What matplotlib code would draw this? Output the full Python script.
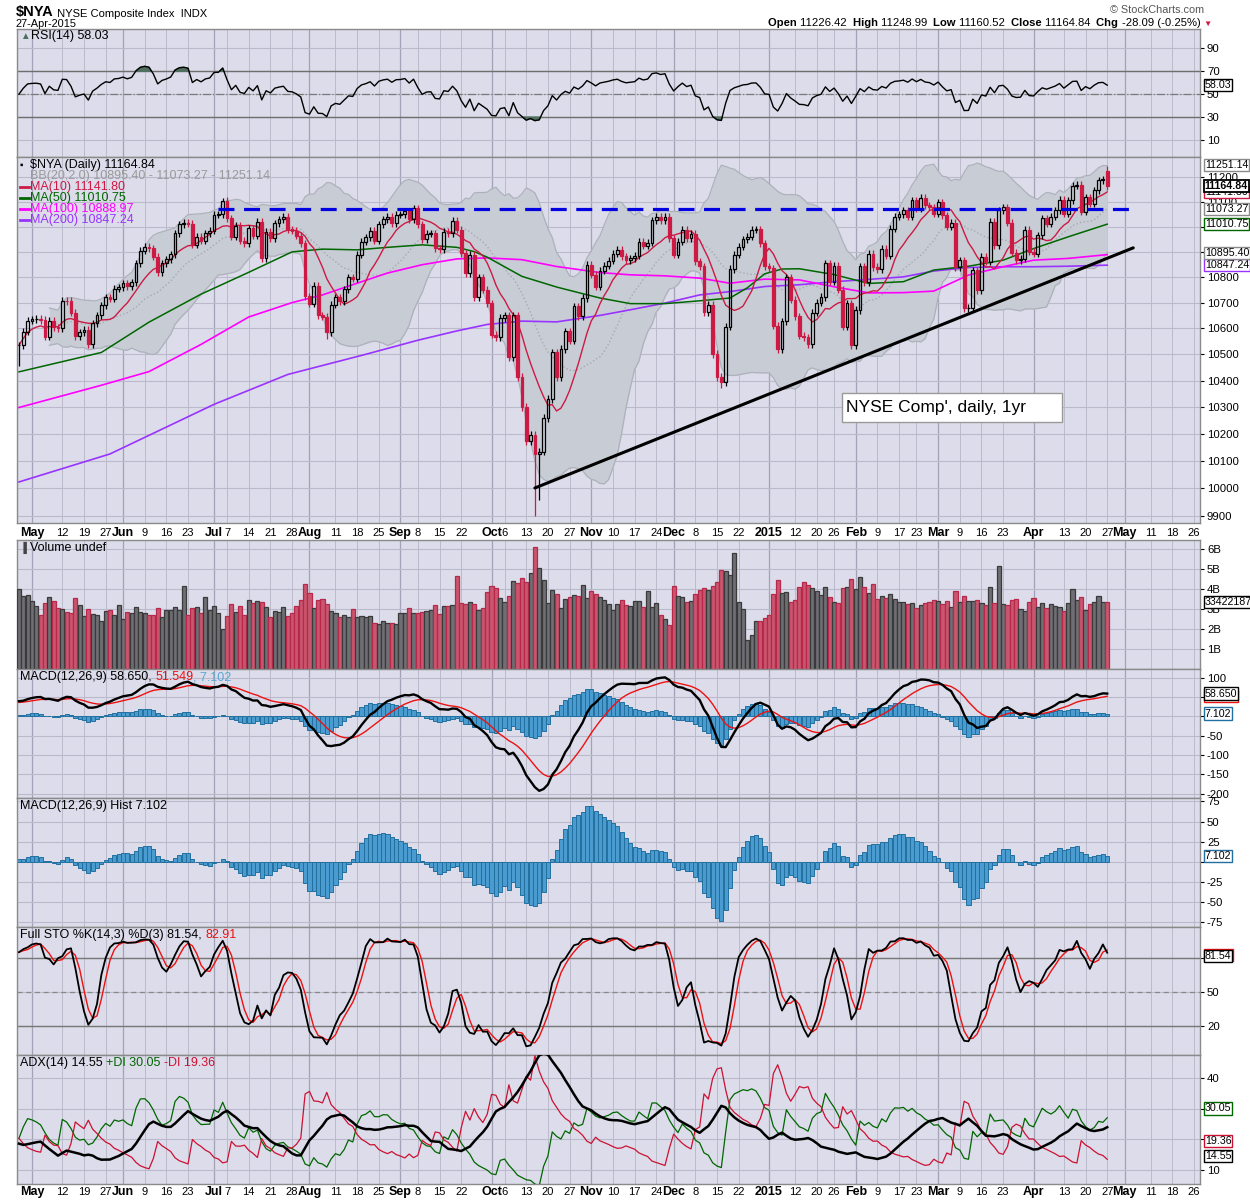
import numpy as np
import pandas as pd
import matplotlib
matplotlib.use('Agg')
import matplotlib.pyplot as plt
from matplotlib.transforms import blended_transform_factory
from matplotlib.ticker import NullLocator
from matplotlib.patches import Rectangle

plt.rcParams['font.family'] = ['Liberation Sans', 'DejaVu Sans']

# ---------------- values ----------------
# daily closes, 28-Apr-2014 .. 27-Apr-2015
closes = [
    10535, 10587, 10630, 10635, 10637, 10632, 10568, 10630, 10604, 10600,
    10708, 10706, 10660, 10570, 10585, 10595, 10540, 10620, 10650, 10690,
    10720, 10715, 10755, 10760, 10775, 10765, 10780, 10855, 10905, 10920,
    10915, 10880, 10820, 10855, 10870, 10890, 10975, 11010, 11017, 11012,
    10928, 10960, 10945, 10975, 10985, 11048, 11050, 11105, 11035, 10960,
    11005, 10945, 10935, 10995, 10965, 11020, 10875, 10980, 10955, 11015,
    11030, 11040, 10990, 10985, 10965, 10935, 10724, 10695, 10765, 10650,
    10645, 10584, 10692, 10720, 10706, 10752, 10800, 10793, 10889, 10940,
    10958, 10985, 10945, 11010, 11030, 11040, 11015, 11048, 11050, 11062,
    11030, 11074, 11010, 10950, 10972, 10975, 10915, 10910, 10981, 10975,
    11025, 10988, 10895, 10815, 10889, 10720, 10800, 10750, 10698, 10575,
    10565, 10640, 10650, 10489, 10651, 10414, 10300, 10173, 10195, 10124,
    10134, 10258, 10330, 10508, 10414, 10520, 10588, 10552, 10685, 10646,
    10718, 10848, 10810, 10762, 10826, 10845, 10865, 10893, 10908, 10882,
    10866, 10875, 10884, 10941, 10924, 10937, 11027, 11040, 11027, 11040,
    10955, 10888, 10941, 10988, 10955, 10972, 10862, 10842, 10662, 10692,
    10501, 10414, 10395, 10607, 10832, 10889, 10920, 10951, 10960, 10988,
    10990, 10934, 10842, 10835, 10610, 10520, 10627, 10800, 10711, 10646,
    10571, 10565, 10540, 10660, 10700, 10722, 10855, 10782, 10845, 10750,
    10607, 10697, 10536, 10671, 10843, 10781, 10893, 10840, 10832, 10913,
    10885, 10993, 11040, 11050, 11067, 11040, 11107, 11073, 11118, 11087,
    11080, 11053, 11100, 11047, 11000, 11016, 10840, 10867, 10678, 10680,
    10827, 10748, 10880, 10860, 11020, 10927, 11067, 11080, 11016, 10896,
    10867, 10873, 10989, 10900, 10893, 10967, 11034, 11013, 11040, 11067,
    11110, 11053, 11107, 11166, 11170, 11060, 11120, 11094, 11148, 11188,
    11193, 11164.84,
]

# daily volume, billions of shares
volumes = [
    4.00, 3.63, 3.68, 3.38, 3.13, 2.68, 3.28, 3.58, 3.38, 3.03,
    2.98, 2.85, 2.78, 3.53, 3.18, 2.63, 2.98, 2.77, 2.72, 2.38,
    2.88, 2.93, 2.68, 3.18, 2.48, 2.83, 2.78, 3.08, 2.83, 2.78,
    2.68, 2.68, 3.03, 2.58, 2.93, 2.93, 3.08, 2.93, 4.13, 2.68,
    3.03, 3.08, 2.78, 3.58, 2.93, 3.13, 2.78, 1.98, 2.63, 3.23,
    2.83, 3.13, 2.68, 3.43, 3.28, 3.38, 3.33, 3.08, 2.58, 2.88,
    2.83, 3.08, 2.63, 2.78, 3.13, 3.43, 4.23, 3.78, 3.03, 3.43,
    3.48, 3.23, 2.88, 2.78, 2.58, 2.68, 2.58, 2.98, 2.58, 2.63,
    2.58, 2.63, 2.28, 2.23, 2.38, 2.28, 2.28, 2.23, 2.78, 2.78,
    3.03, 2.78, 2.78, 2.83, 2.88, 2.93, 3.18, 2.73, 3.13, 3.13,
    3.18, 4.63, 3.28, 3.23, 3.33, 3.23, 2.93, 3.03, 3.83, 4.13,
    4.03, 3.53, 3.33, 3.63, 4.38, 4.28, 4.53, 4.33, 4.78, 6.08,
    5.03, 4.43, 3.28, 3.93, 3.73, 3.03, 3.48, 3.58, 3.68, 3.63,
    4.18, 3.53, 3.88, 3.73, 3.58, 3.43, 3.23, 2.93, 3.23, 3.43,
    3.18, 3.13, 3.38, 3.38, 3.08, 3.88, 3.08, 3.28, 2.68, 2.48,
    2.20, 4.13, 3.63, 3.58, 3.33, 3.38, 3.73, 3.93, 4.03, 3.93,
    4.13, 4.33, 4.93, 4.88, 4.68, 5.80, 3.33, 2.98, 1.43, 1.68,
    2.38, 2.38, 2.53, 2.68, 3.73, 4.43, 3.78, 3.83, 3.33, 3.43,
    4.08, 4.33, 4.18, 4.03, 3.88, 3.68, 4.08, 3.58, 3.33, 3.28,
    4.03, 4.08, 4.48, 3.98, 4.58, 4.08, 3.78, 4.23, 3.48, 3.63,
    3.53, 3.73, 3.48, 3.33, 3.33, 3.23, 3.28, 3.03, 3.18, 3.28,
    3.33, 3.43, 3.38, 3.23, 3.38, 3.08, 3.88, 3.33, 3.63, 3.38,
    3.38, 3.43, 3.28, 3.18, 4.08, 3.28, 5.13, 3.23, 3.18, 3.43,
    3.48, 2.98, 2.88, 3.33, 3.53, 3.08, 3.28, 3.03, 3.23, 3.13,
    3.08, 2.88, 3.28, 3.98, 3.43, 3.58, 2.93, 3.23, 3.33, 3.63,
    3.33, 3.342,
]

# intraday extremes that stand out on the chart
big_lows = {0: 10455, 119: 9897, 120: 9955, 71: 10560, 162: 10370}
big_highs = {47: 11115, 251: 11248.99}
last_open = 11226.42

# indicator levels at the left edge of the chart (history before it is not shown)
macd_start, signal_start = 42, 35
adx_start = 20

# slow moving averages (trading-day index, value)
ma50_idx = [0, 19, 30, 42, 53, 63, 70, 78, 85, 93, 101, 105, 108, 116, 124, 130, 134,
            141, 149, 157, 164, 168, 172, 176, 180, 188, 196, 204, 211, 219, 227, 234, 242, 251]
ma50_val = [10433, 10507, 10624, 10733, 10819, 10900, 10911, 10908, 10918, 10928, 10918,
            10901, 10879, 10803, 10761, 10735, 10718, 10696, 10696, 10707, 10718, 10758,
            10813, 10832, 10833, 10810, 10775, 10782, 10828, 10843, 10867, 10913, 10960, 11010.75]
ma100_idx = [0, 19, 30, 42, 53, 63, 70, 78, 85, 93, 101, 108, 116, 124, 134, 141, 149, 157,
             164, 172, 180, 188, 196, 204, 211, 219, 227, 234, 242, 251]
ma100_val = [10298, 10382, 10434, 10538, 10644, 10700, 10730, 10776, 10816, 10849, 10872,
             10876, 10869, 10842, 10818, 10809, 10805, 10796, 10776, 10792, 10789, 10762,
             10738, 10739, 10745, 10808, 10841, 10867, 10874, 10888.97]
ma200_idx = [0, 21, 45, 62, 80, 92, 101, 108, 116, 124, 134, 141, 149, 157, 164, 172, 180,
             188, 196, 204, 211, 219, 227, 234, 242, 251]
ma200_val = [10022, 10125, 10310, 10423, 10500, 10554, 10590, 10615, 10628, 10625, 10650,
             10672, 10698, 10730, 10743, 10763, 10770, 10782, 10791, 10801, 10824, 10838,
             10841, 10841, 10843, 10847.24]

# drawn-on lines
resist_dates = ['2014-07-02', '2015-05-05']
resist_level = [11070, 11070]
trend_dates = ['2014-10-15', '2015-05-05']
trend_level = [10000, 10916]

holidays = ['2014-05-26', '2014-07-04', '2014-09-01', '2014-11-27', '2014-12-25',
            '2015-01-01', '2015-01-19', '2015-02-16', '2015-04-03', '2015-05-25']

tick_dates = ['2014-05-01', '2014-05-12', '2014-05-19', '2014-05-27', '2014-06-02', '2014-06-09',
              '2014-06-16', '2014-06-23', '2014-07-01', '2014-07-07', '2014-07-14', '2014-07-21',
              '2014-07-28', '2014-08-01', '2014-08-11', '2014-08-18', '2014-08-25', '2014-09-02',
              '2014-09-08', '2014-09-15', '2014-09-22', '2014-10-01', '2014-10-06', '2014-10-13',
              '2014-10-20', '2014-10-27', '2014-11-03', '2014-11-10', '2014-11-17', '2014-11-24',
              '2014-12-01', '2014-12-08', '2014-12-15', '2014-12-22', '2015-01-02', '2015-01-12',
              '2015-01-20', '2015-01-26', '2015-02-02', '2015-02-09', '2015-02-17', '2015-02-23',
              '2015-03-02', '2015-03-09', '2015-03-16', '2015-03-23', '2015-04-01', '2015-04-13',
              '2015-04-20', '2015-04-27', '2015-05-01', '2015-05-11', '2015-05-18', '2015-05-26']
tick_text = ['May', '12', '19', '27', 'Jun', '9', '16', '23', 'Jul', '7', '14', '21', '28', 'Aug',
             '11', '18', '25', 'Sep', '8', '15', '22', 'Oct', '6', '13', '20', '27', 'Nov', '10',
             '17', '24', 'Dec', '8', '15', '22', '2015', '12', '20', '26', 'Feb', '9', '17', '23',
             'Mar', '9', '16', '23', 'Apr', '13', '20', '27', 'May', '11', '18', '26']

# ---------------- calendar ----------------
days = pd.bdate_range('2014-04-28', '2015-05-29')
days = days[~days.isin(pd.to_datetime(holidays))]
pos = {d: i for i, d in enumerate(days)}


def dix(s):
    return pos[pd.Timestamp(s)]


# ---------------- indicators ----------------
c = pd.Series(closes, dtype=float)
n = len(c)
x = np.arange(n)
o = c.shift(1)
o.iloc[0] = c.iloc[0]
o.iloc[-1] = last_open
WICK = 14
hi = np.maximum(o, c) + WICK
lo = np.minimum(o, c) - WICK
for k, v in big_lows.items():
    lo.iloc[k] = v
for k, v in big_highs.items():
    hi.iloc[k] = v


def smooth(vals, alpha, seed):
    out = np.empty(len(vals))
    prev = seed
    for i, v in enumerate(vals):
        if not np.isnan(v):
            prev = prev + alpha * (v - prev)
        out[i] = prev
    return out


ma10 = c.rolling(10, min_periods=1).mean()
bb_mid = c.rolling(20, min_periods=8).mean()
bb_sd = c.rolling(20, min_periods=8).std(ddof=0)
bb_up = bb_mid + 2 * bb_sd
bb_lo = bb_mid - 2 * bb_sd

d = c.diff().values
gain = np.where(d > 0, d, 0.0)
loss = np.where(d < 0, -d, 0.0)
seed = np.nanmean(np.abs(d[1:15])) / 2
au = smooth(gain, 1 / 14, seed)
ad = smooth(loss, 1 / 14, seed)
rsi = 100 - 100 / (1 + au / ad)

cv = c.values
ema12 = smooth(cv, 2 / 13, cv[0])
ema26 = smooth(cv, 2 / 27, cv[0] - macd_start)
macd = ema12 - ema26
sig = smooth(macd, 2 / 10, signal_start)
hist = macd - sig

ll = lo.rolling(14, min_periods=1).min()
hh = hi.rolling(14, min_periods=1).max()
fk = 100 * (c - ll) / (hh - ll)
stk = fk.rolling(3, min_periods=1).mean()
std_ = stk.rolling(3, min_periods=1).mean()

pc = c.shift(1)
tr = pd.concat([hi - lo, (hi - pc).abs(), (lo - pc).abs()], axis=1).max(axis=1).values
upm = hi.diff().values
dnm = -lo.diff().values
pdm = np.where((upm > dnm) & (upm > 0), upm, 0.0)
mdm = np.where((dnm > upm) & (dnm > 0), dnm, 0.0)
dm_seed = (pdm[1:15].mean() + mdm[1:15].mean()) / 2
atr = smooth(tr, 1 / 14, tr[1:15].mean())
pdi = 100 * smooth(pdm, 1 / 14, dm_seed) / atr
mdi = 100 * smooth(mdm, 1 / 14, dm_seed) / atr
dx = 100 * np.abs(pdi - mdi) / (pdi + mdi)
adx = smooth(dx, 1 / 14, adx_start)

# ---------------- figure ----------------
W, H = 1250, 1200
L, R = 17, 1200
fig = plt.figure(figsize=(12.5, 12), dpi=100)
fig.patch.set_facecolor('white')

BG = '#dcdcea'
GRID = '#babacc'
MGRID = '#a2a2b6'
RED = '#cc1a44'
GREEN = '#006600'
MAG = '#ff00ff'
PURP = '#9933ff'
FS = 9
BFS = 7.7
XMIN, XMAX = -0.45, 272.4


def frect(top, bottom):
    return [L / W, 1 - bottom / H, (R - L) / W, (bottom - top) / H]


def px(xp, yp):
    return xp / W, 1 - yp / H


def panel(top, bottom):
    ax = fig.add_axes(frect(top, bottom))
    ax.set_facecolor(BG)
    ax.set_xlim(XMIN, XMAX)
    ax.set_xticks([])
    ax.yaxis.tick_right()
    ax.tick_params(axis='y', which='both', labelsize=8.2, length=3, width=0.8, pad=2)
    for s in ax.spines.values():
        s.set_color('#8a8a8a')
        s.set_linewidth(1)
    for dt, t in zip(tick_dates, tick_text):
        month = not t.isdigit() or t == '2015'
        ax.axvline(dix(dt), color=MGRID if month else GRID, lw=0.9 if month else 0.7, zorder=0)
    return ax


def yticks(ax, vals, labels):
    ax.set_yticks(vals)
    ax.set_yticklabels(labels)
    ax.yaxis.set_minor_locator(NullLocator())
    ax.grid(axis='y', which='major', color=GRID, lw=0.8, zorder=0)
    ax.set_axisbelow(True)


def vbox(ax, val, txt, ec, bold=False):
    tr_ = blended_transform_factory(ax.transAxes, ax.transData)
    ax.text(1.004, val, txt, transform=tr_, ha='left', va='center', fontsize=BFS,
            fontweight='bold' if bold else 'normal', color='black', clip_on=False, zorder=20,
            bbox=dict(boxstyle='square,pad=0.1', fc='white', ec=ec, lw=1.3 if bold else 1))


def chain(ax, xp, yp, pieces, size=FS):
    # pieces: (text, colour[, weight[, size]])
    first = pieces[0]
    t = fig.text(*px(xp, yp), first[0], color=first[1], va='center',
                 fontweight=first[2] if len(first) > 2 else 'normal',
                 fontsize=first[3] if len(first) > 3 else size)
    for p in pieces[1:]:
        t = ax.annotate(p[0], xy=(1, 0), xycoords=t, va='bottom', ha='left', color=p[1],
                        fontweight=p[2] if len(p) > 2 else 'normal',
                        fontsize=p[3] if len(p) > 3 else size, annotation_clip=False)


def date_row(ax, yfrac):
    tr_ = blended_transform_factory(ax.transData, ax.transAxes)
    for dt, t in zip(tick_dates, tick_text):
        month = not t.isdigit() or t == '2015'
        ax.text(dix(dt), yfrac, t, transform=tr_, ha='center', va='center',
                fontsize=9 if month else 8, fontweight='bold' if month else 'normal',
                clip_on=False)


# ---- RSI ----
ax_rsi = panel(29, 157)
ax_rsi.set_ylim(-4.8, 106.8)
yticks(ax_rsi, [10, 30, 50, 70, 90], ['10', '30', '50', '70', '90'])
ax_rsi.axhline(70, color='#6e6e6e', lw=1, zorder=1)
ax_rsi.axhline(30, color='#6e6e6e', lw=1, zorder=1)
ax_rsi.axhline(50, color='#7a7a7a', lw=0.9, ls='-.', zorder=1)
ax_rsi.fill_between(x, rsi, 70, where=rsi > 70, color='#4f6f5f', zorder=2, interpolate=True)
ax_rsi.fill_between(x, rsi, 30, where=rsi < 30, color='#4f6f5f', zorder=2, interpolate=True)
ax_rsi.plot(x, rsi, color='black', lw=1, zorder=3)
vbox(ax_rsi, 58.03, '58.03', 'black')
fig.text(*px(20, 36), '\u25b2', fontsize=7, color='#4f6f5f', va='center')
fig.text(*px(31, 36), 'RSI(14) 58.03', fontsize=FS, va='center')

# ---- header ----
chain(ax_rsi, 16, 12, [('$NYA', 'black', 'bold', 10.5), (' NYSE Composite Index  INDX', 'black', 'normal', 8)])
fig.text(*px(16, 24), '27-Apr-2015', fontsize=7.9, va='center')
fig.text(*px(1110, 10), '\u00a9 StockCharts.com', fontsize=7.8, color='#555555', va='center')
chain(ax_rsi, 768, 23, [('Open ', 'black', 'bold'), ('11226.42  ', 'black'), ('High ', 'black', 'bold'),
                        ('11248.99  ', 'black'), ('Low ', 'black', 'bold'), ('11160.52  ', 'black'),
                        ('Close ', 'black', 'bold'), ('11164.84  ', 'black'), ('Chg ', 'black', 'bold'),
                        ('-28.09 (-0.25%) ', 'black'), ('\u25bc', RED, 'normal', 6)], size=8.1)

# ---- price ----
ax_p = panel(157, 523)
ax_p.set_yscale('log')
ax_p.set_ylim(9873, 11284)
pticks = [9900, 10000, 10100, 10200, 10300, 10400, 10500, 10600, 10700, 10800, 10900, 11000, 11100, 11200]
plabels = [str(v) for v in pticks]
plabels[pticks.index(10900)] = ''
plabels[pticks.index(11000)] = ''
yticks(ax_p, pticks, plabels)

ax_p.fill_between(x, bb_lo, bb_up, color='#c8cdd5', zorder=1, lw=0)
ax_p.plot(x, bb_up, color='#adb2ba', lw=0.9, zorder=1.5)
ax_p.plot(x, bb_lo, color='#adb2ba', lw=0.9, zorder=1.5)
ax_p.plot(x, bb_mid, color='#a4a9b2', lw=1, ls=':', zorder=1.5)
ax_p.plot(ma200_idx, ma200_val, color=PURP, lw=1.2, zorder=2)
ax_p.plot(ma100_idx, ma100_val, color=MAG, lw=1.2, zorder=2)
ax_p.plot(ma50_idx, ma50_val, color=GREEN, lw=1.1, zorder=2)
ax_p.plot(x, ma10, color=RED, lw=1.0, zorder=2.5)

upday = (c >= c.shift(1)).values
upday[0] = True
ecol = np.where(upday, 'black', RED)
filled = (c < o).values
body_lo = np.minimum(o, c).values
body_hi = np.maximum(o, c).values
ax_p.vlines(x, lo.values, body_lo, colors=ecol, lw=0.9, zorder=3)
ax_p.vlines(x, body_hi, hi.values, colors=ecol, lw=0.9, zorder=3)
hgt = np.maximum(body_hi - body_lo, 1.5)
for i in range(n):
    ax_p.add_patch(Rectangle((x[i] - 0.32, body_lo[i]), 0.64, hgt[i],
                             facecolor=ecol[i] if filled[i] else 'none',
                             edgecolor=ecol[i], lw=0.9, zorder=4))

ax_p.plot([dix(s) for s in resist_dates], resist_level, color='#0000e0', lw=2.3,
          dashes=(5, 3), zorder=6)
ax_p.plot([dix(s) for s in trend_dates], trend_level, color='black', lw=2.2, zorder=6,
          solid_capstyle='round')

ax_p.add_patch(Rectangle((0.6975, 0.276), 0.186, 0.079, transform=ax_p.transAxes,
                         facecolor='white', edgecolor='#9a9a9a', lw=1, zorder=7))
ax_p.text(0.7005, 0.3155, "NYSE Comp', daily, 1yr", transform=ax_p.transAxes, fontsize=12.5,
          va='center', ha='left', zorder=8)

vbox(ax_p, 11251.14, '11251.14', '#8a8a8a')
vbox(ax_p, 11141.80, '11141.80', RED)
vbox(ax_p, 11164.84, '11164.84', 'black', bold=True)
vbox(ax_p, 11073.27, '11073.27', '#8a8a8a')
vbox(ax_p, 11010.75, '11010.75', GREEN)
vbox(ax_p, 10847.24, '10847.24', PURP)
vbox(ax_p, 10895.40, '10895.40', '#8a8a8a')

fig.text(*px(20, 165), '\u25aa', fontsize=7, va='center')
fig.text(*px(30, 165), '$NYA (Daily) 11164.84', fontsize=FS, va='center')
fig.text(*px(30, 176), 'BB(20,2.0) 10895.40 - 11073.27 - 11251.14', fontsize=FS, va='center',
         color='#9a9a9a')
for yp, txt, col in [(187, 'MA(10) 11141.80', RED), (198, 'MA(50) 11010.75', GREEN),
                     (209, 'MA(100) 10888.97', MAG), (220, 'MA(200) 10847.24', PURP)]:
    fig.add_artist(plt.Line2D([20 / W, 29 / W], [1 - yp / H, 1 - yp / H], color=col, lw=2))
    fig.text(*px(30, yp), txt, fontsize=FS, va='center', color=col)

date_row(ax_p, -(533 - 523) / 366)

# ---- volume ----
ax_v = panel(540, 669)
ax_v.set_ylim(0, 6.45)
yticks(ax_v, [1, 2, 3, 4, 5, 6], ['1B', '2B', '3B', '4B', '5B', '6B'])
vface = np.where(upday, '#6e6e74', '#c9566e')
vedge = np.where(upday, '#3a3a3a', '#b8284a')
ax_v.bar(x, volumes, width=0.95, color=vface, edgecolor=vedge, lw=0.9, zorder=3)
vbox(ax_v, 3.342, '33422187', 'black')
fig.text(*px(20, 548), '\u2590', fontsize=7, va='center', color='#444444')
fig.text(*px(30, 548), 'Volume undef', fontsize=FS, va='center')

# ---- MACD ----
ax_m = panel(669, 798)
ax_m.set_ylim(-211, 122)
yticks(ax_m, [100, 50, 0, -50, -100, -150, -200], ['100', '', '', '-50', '-100', '-150', '-200'])
ax_m.bar(x, hist, width=0.95, color='#4a9bd0', edgecolor='#22709f', lw=0.7, zorder=2)
ax_m.plot(x, sig, color='#ee1111', lw=1, zorder=3)
ax_m.plot(x, macd, color='black', lw=1.7, zorder=4)
vbox(ax_m, 51.549, '51.549', '#ee1111')
vbox(ax_m, 58.650, '58.650', 'black')
vbox(ax_m, 7.102, '7.102', '#22709f')
chain(ax_m, 20, 677, [('MACD(12,26,9) 58.650, ', 'black'), ('51.549', '#ee1111'),
                      (', 7.102', '#5aa6d6')])

# ---- MACD histogram ----
ax_h = panel(798, 927)
ax_h.set_ylim(-81.25, 79.25)
yticks(ax_h, [75, 50, 25, 0, -25, -50, -75], ['75', '50', '25', '', '-25', '-50', '-75'])
ax_h.bar(x, hist, width=0.95, color='#4a9bd0', edgecolor='#22709f', lw=0.7, zorder=2)
vbox(ax_h, 7.102, '7.102', '#22709f')
fig.text(*px(20, 806), 'MACD(12,26,9) Hist 7.102', fontsize=FS, va='center')

# ---- Full stochastics ----
ax_s = panel(927, 1055)
ax_s.set_ylim(-5.5, 107.3)
yticks(ax_s, [20, 50, 80], ['20', '50', ''])
ax_s.axhline(80, color='#777777', lw=1, zorder=1)
ax_s.axhline(20, color='#777777', lw=1, zorder=1)
ax_s.axhline(50, color='#888888', lw=0.9, dashes=(4, 3), zorder=1)
ax_s.plot(x, std_, color='#ee1111', lw=1, zorder=3)
ax_s.plot(x, stk, color='black', lw=1.3, zorder=4)
vbox(ax_s, 82.91, '82.91', '#ee1111')
vbox(ax_s, 81.54, '81.54', 'black')
chain(ax_s, 20, 935, [('Full STO %K(14,3) %D(3) 81.54, ', 'black'), ('82.91', '#ee1111')])

# ---- ADX ----
ax_a = panel(1055, 1184)
ax_a.set_ylim(5.4, 47.5)
yticks(ax_a, [10, 20, 30, 40], ['10', '', '', '40'])
ax_a.plot(x, pdi, color=GREEN, lw=0.9, zorder=3)
ax_a.plot(x, mdi, color='#cc1133', lw=0.9, zorder=3)
ax_a.plot(x, adx, color='black', lw=1.8, zorder=4)
vbox(ax_a, 30.05, '30.05', GREEN)
vbox(ax_a, 19.36, '19.36', '#cc1133')
vbox(ax_a, 14.55, '14.55', 'black')
chain(ax_a, 20, 1063, [('ADX(14) 14.55 ', 'black'), ('+DI 30.05 ', GREEN), ('-DI 19.36', '#cc1133')])
date_row(ax_a, -(1192 - 1184) / 129)

fig.savefig('out.png', dpi=100, facecolor='white')
